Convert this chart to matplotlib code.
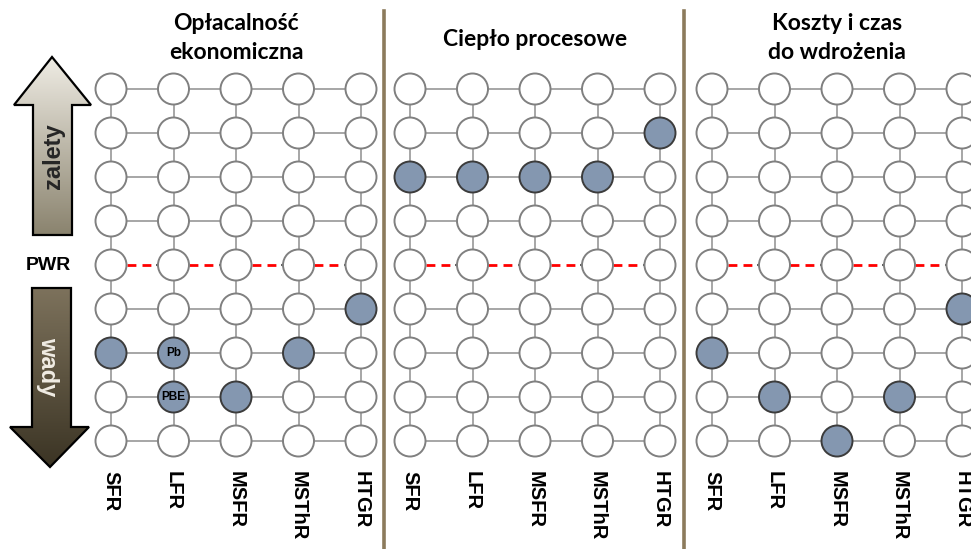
import numpy as np
import matplotlib.pyplot as plt
from matplotlib.patches import Circle, Polygon
from matplotlib.colors import LinearSegmentedColormap

# --- data ---
reaktory = ["SFR", "LFR", "MSFR", "MSThR", "HTGR"]
tytuly = ["Opłacalność\nekonomiczna", "Ciepło procesowe", "Koszty i czas\ndo wdrożenia"]
# level of each reactor relative to PWR (+ = zalety, - = wady)
ekonomia = [[-2], [-2, -3], [-3], [-2], [-1]]
cieplo = [[2], [2], [2], [2], [3]]
koszty = [[-2], [-3], [-4], [-3], [-1]]
panele = [ekonomia, cieplo, koszty]
# labels written inside selected circles: (panel, reactor, level) -> text
podpisy = {(0, 1, -2): "Pb", (0, 1, -3): "PBE"}
poziomy = [4, 3, 2, 1, 0, -1, -2, -3, -4]

# --- layout (pixels) ---
W, H = 971, 549
panel_x0 = [111, 410, 712]
dx = 62.5
y_pwr = 265
dy = 44
r = 15.5
dzielniki = [384, 684]

fill_c = "#8497b0"
edge_empty = "#808080"
edge_full = "#3c3c3c"
line_c = "#a6a6a6"

fig = plt.figure(figsize=(W / 100, H / 100), dpi=100)
ax = fig.add_axes([0, 0, 1, 1])
ax.set_xlim(0, W)
ax.set_ylim(H, 0)
ax.axis("off")

def ypos(lvl):
    return y_pwr - lvl * dy

for p, dane in enumerate(panele):
    xs = [panel_x0[p] + i * dx for i in range(len(reaktory))]
    ys = [ypos(l) for l in poziomy]
    # connectors
    for y, lvl in zip(ys, poziomy):
        for i in range(len(xs) - 1):
            if lvl == 0:
                ax.plot([xs[i] + r, xs[i + 1] - r], [y, y], color="#555555", lw=1.5, zorder=1)
                ax.plot([xs[i] + r, xs[i + 1] - r - 4], [y, y], color="white", lw=3, zorder=1.5)
                ax.plot([xs[i] + r, xs[i + 1] - r - 4], [y, y], color="#ff0000", lw=2,
                        linestyle=(0, (3.2, 2.2)), zorder=2)
            else:
                ax.plot([xs[i] + r, xs[i + 1] - r], [y, y], color=line_c, lw=1.4, zorder=1)
    for x in xs:
        for j in range(len(ys) - 1):
            ax.plot([x, x], [ys[j] + r, ys[j + 1] - r], color=line_c, lw=1.4, zorder=1)
    # circles
    for i, x in enumerate(xs):
        for lvl in poziomy:
            full = lvl in dane[i]
            ax.add_patch(Circle((x, ypos(lvl)), r,
                                facecolor=fill_c if full else "white",
                                edgecolor=edge_full if full else edge_empty,
                                lw=1.4, zorder=3))
            key = (p, i, lvl)
            if key in podpisy:
                ax.text(x, ypos(lvl), podpisy[key], ha="center", va="center",
                        fontsize=8.5, fontweight="bold", family="Liberation Sans", zorder=4)
    # reactor names
    for i, x in enumerate(xs):
        ax.text(x, 471, reaktory[i], rotation=-90, ha="center", va="top",
                fontsize=14.5, fontweight="bold", family="Liberation Sans")
    # title
    cx = (xs[0] + xs[-1]) / 2
    ax.text(cx, 38 if p != 1 else 40, tytuly[p], ha="center", va="center",
            fontsize=16.5, fontweight="bold", family="Lato", linespacing=1.45)

# dividers
for xd in dzielniki:
    ax.plot([xd, xd], [11, H], color="#8c7b5c", lw=2.6, zorder=1)

# PWR label
ax.text(48, 265, "PWR", ha="center", va="center", fontsize=14, fontweight="bold",
        family="Liberation Sans")

# gradient arrows
def strzalka(pts, c_top, c_bottom):
    poly = Polygon(pts, closed=True, facecolor="none", edgecolor="black", lw=1.6, zorder=5)
    ax.add_patch(poly)
    xs_ = [p[0] for p in pts]
    ys_ = [p[1] for p in pts]
    cmap = LinearSegmentedColormap.from_list("g", [c_top, c_bottom])
    grad = np.linspace(0, 1, 256).reshape(-1, 1)
    im = ax.imshow(grad, cmap=cmap, aspect="auto", origin="upper",
                   extent=(min(xs_), max(xs_), max(ys_), min(ys_)), zorder=4)
    im.set_clip_path(poly)

up = [(52, 57), (91, 105), (72, 105), (72, 235), (33, 235), (33, 105), (14, 105)]
down = [(32, 288), (71, 288), (71, 427), (89, 427), (50, 467), (10, 427), (32, 427)]
strzalka(up, "#efece4", "#8a836e")
strzalka(down, "#7d725c", "#3b3424")
ax.set_xlim(0, W)
ax.set_ylim(H, 0)

ax.text(53, 156, "zalety", rotation=90, ha="center", va="center", fontsize=17,
        fontweight="bold", family="Liberation Sans", color="#262626", zorder=6)
ax.text(48, 367, "wady", rotation=-90, ha="center", va="center", fontsize=17,
        fontweight="bold", family="Liberation Sans", color="#f0ece4", zorder=6)

fig.savefig("out.png", dpi=100)
